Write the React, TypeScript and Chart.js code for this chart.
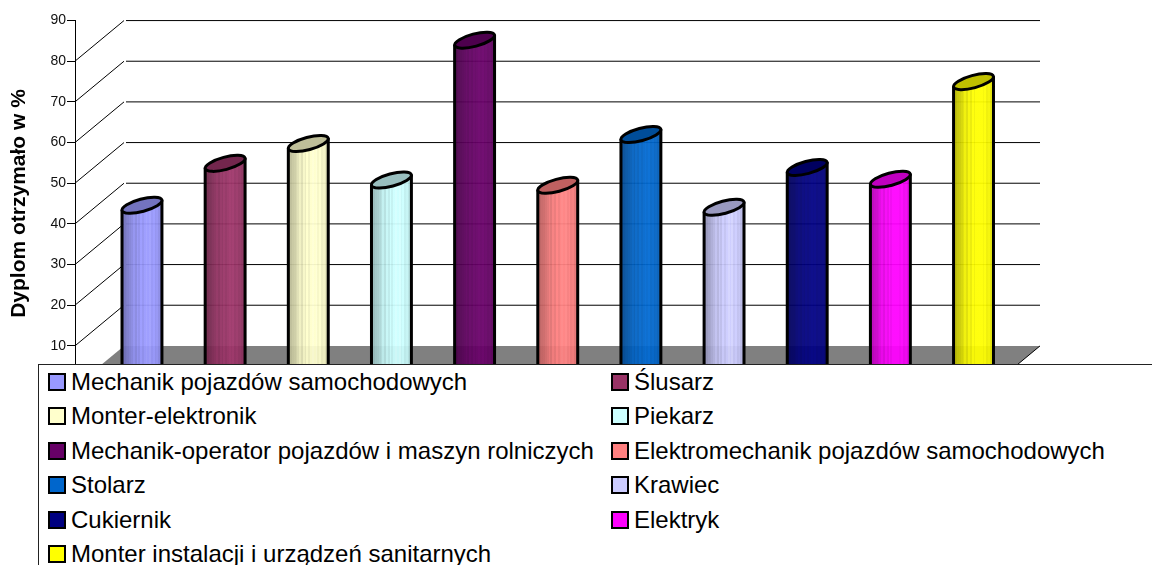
import React, { useEffect, useRef } from "react";
import { Chart, registerables } from "chart.js";

Chart.register(...registerables);

const categories = [
  "Mechanik pojazdów samochodowych",
  "Ślusarz",
  "Monter-elektronik",
  "Piekarz",
  "Mechanik-operator pojazdów i maszyn rolniczych",
  "Elektromechanik pojazdów samochodowych",
  "Stolarz",
  "Krawiec",
  "Cukiernik",
  "Elektryk",
  "Monter instalacji i urządzeń sanitarnych",
];
const values = [39.7, 50, 54.9, 45.9, 80.3, 44.6, 57.1, 39.2, 49, 46.1, 70.1];
const colors = ["#9999FF", "#993366", "#FFFFCC", "#CCFFFF", "#660066", "#FF8080", "#0066CC", "#CCCCFF", "#000080", "#FF00FF", "#FFFF00"];
const stripes = [0.72, 0.74, 0.78, 0.8, 0.84, 0.88, 0.94, 0.88, 0.97, 0.92, 1, 0.95, 1, 1.04, 1, 1.04, 0.97, 1, 0.94, 0.96, 0.9, 0.86];
const axisTitle = "Dyplom otrzymało w %";

const DEPTH_X = 49;
const DEPTH_Y = 40.6;
const WALL_RIGHT = 1040;
const BAR_SHIFT_X = 25.4;
const BAR_SHIFT_Y = 20.3;

function shade(hex: string, f: number) {
  const n = parseInt(hex.slice(1), 16);
  const c = (v: number) => Math.min(255, Math.round(v * f));
  return `rgb(${c((n >> 16) & 255)},${c((n >> 8) & 255)},${c(n & 255)})`;
}

const box3d = {
  id: "box3d",
  beforeDatasetsDraw(chart: any) {
    const { ctx, scales } = chart;
    const y = scales.y;
    const left = chart.chartArea.left;
    ctx.save();
    ctx.strokeStyle = "#000";
    ctx.lineWidth = 1;
    for (let v = 10; v <= 80; v += 10) {
      const py = y.getPixelForValue(v);
      ctx.beginPath();
      ctx.moveTo(left, py);
      ctx.lineTo(left + DEPTH_X, py - DEPTH_Y);
      ctx.moveTo(left + DEPTH_X + 2, py - DEPTH_Y);
      ctx.lineTo(WALL_RIGHT, py - DEPTH_Y);
      ctx.stroke();
    }
    const y0 = y.getPixelForValue(0);
    ctx.fillStyle = "#808080";
    ctx.beginPath();
    ctx.moveTo(left, y0);
    ctx.lineTo(left + DEPTH_X, y0 - DEPTH_Y);
    ctx.lineTo(WALL_RIGHT, y0 - DEPTH_Y);
    ctx.lineTo(WALL_RIGHT - DEPTH_X, y0);
    ctx.closePath();
    ctx.fill();
    ctx.beginPath();
    ctx.moveTo(WALL_RIGHT, y0 - DEPTH_Y);
    ctx.lineTo(WALL_RIGHT - DEPTH_X, y0);
    ctx.stroke();
    ctx.restore();
  },
  beforeDatasetDraw(chart: any, args: any) {
    const { ctx } = chart;
    const meta = args.meta;
    const palette = chart.data.datasets[args.index].backgroundColor;
    const tilt = -15 * (Math.PI / 180);
    ctx.save();
    ctx.translate(BAR_SHIFT_X, -BAR_SHIFT_Y);
    meta.data.forEach((el: any, i: number) => {
      const { x, y, base, width } = el.getProps(["x", "y", "base", "width"], true);
      const r = width / 2;
      const t = 5;
      const g = ctx.createLinearGradient(x - r, 0, x + r, 0);
      stripes.forEach((f, k) => {
        const col = shade(palette[i], f);
        g.addColorStop(k / stripes.length, col);
        g.addColorStop((k + 1) / stripes.length, col);
      });
      ctx.globalAlpha = 0.94;
      ctx.fillStyle = g;
      ctx.beginPath();
      ctx.moveTo(x - r, y + t);
      ctx.lineTo(x - r, base);
      ctx.lineTo(x + r, base);
      ctx.lineTo(x + r, y - t);
      ctx.closePath();
      ctx.fill();
      ctx.globalAlpha = 1;
      ctx.strokeStyle = "#000";
      ctx.lineWidth = 3;
      ctx.beginPath();
      ctx.moveTo(x - r, y + t);
      ctx.lineTo(x - r, base);
      ctx.moveTo(x + r, y - t);
      ctx.lineTo(x + r, base);
      ctx.stroke();
      ctx.fillStyle = shade(palette[i], 0.75);
      ctx.beginPath();
      ctx.ellipse(x, y + 0.5, 20.6, 6.2, tilt, 0, Math.PI * 2);
      ctx.fill();
      ctx.stroke();
    });
    ctx.restore();
    return false;
  },
};

const swatchXs = [48, 611];
const textXs = [71, 634];
const ROW_TOP = 382;
const ROW_STEP = 34.4;

export default function App() {
  const ref = useRef<HTMLCanvasElement>(null);
  useEffect(() => {
    const chart = new Chart(ref.current as HTMLCanvasElement, {
      type: "bar",
      data: {
        labels: categories,
        datasets: [{ data: values, backgroundColor: colors, clip: false, categoryPercentage: 1, barPercentage: 0.48 } as any],
      },
      options: {
        responsive: false,
        animation: false,
        layout: { padding: { top: 20.5, bottom: 178.5, left: 0, right: 162.3 } },
        plugins: { legend: { display: false }, tooltip: { enabled: false } },
        scales: {
          x: { display: false },
          y: {
            min: 0,
            max: 90,
            afterFit(s: any) {
              s.width = 75;
            },
            title: {
              display: true,
              text: axisTitle,
              color: "#000",
              font: { family: "Liberation Sans", size: 21, weight: "bold" },
              padding: { top: 7, bottom: 0 },
            },
            ticks: {
              stepSize: 10,
              color: "#111",
              padding: 1,
              font: { family: "Liberation Sans", size: 14 },
            },
            grid: { drawOnChartArea: false, color: "#000", tickLength: 8 },
            border: { color: "#000", width: 1 },
          },
        },
      } as any,
      plugins: [box3d],
    });
    return () => chart.destroy();
  }, []);

  return (
    <div style={{ position: "fixed", left: 0, top: 0, width: 1152, height: 565, overflow: "hidden", background: "#fff", fontFamily: "'Liberation Sans', Arial, sans-serif" }}>
      <canvas ref={ref} width={1152} height={565} style={{ display: "block" }} />
      <div style={{ position: "absolute", left: 38, top: 364, width: 1200, height: 300, background: "#fff", border: "1px solid #222", boxSizing: "border-box" }} />
      {categories.map((c, i) => {
        const col = i % 2;
        const cy = ROW_TOP + Math.floor(i / 2) * ROW_STEP;
        return (
          <React.Fragment key={c}>
            <div style={{ position: "absolute", left: swatchXs[col], top: cy - 9, width: 18, height: 18, boxSizing: "border-box", border: "2.5px solid #000", background: colors[i] }} />
            <div style={{ position: "absolute", left: textXs[col], top: cy - 15, lineHeight: "30px", fontSize: 24, color: "#000", whiteSpace: "nowrap" }}>{c}</div>
          </React.Fragment>
        );
      })}
    </div>
  );
}
